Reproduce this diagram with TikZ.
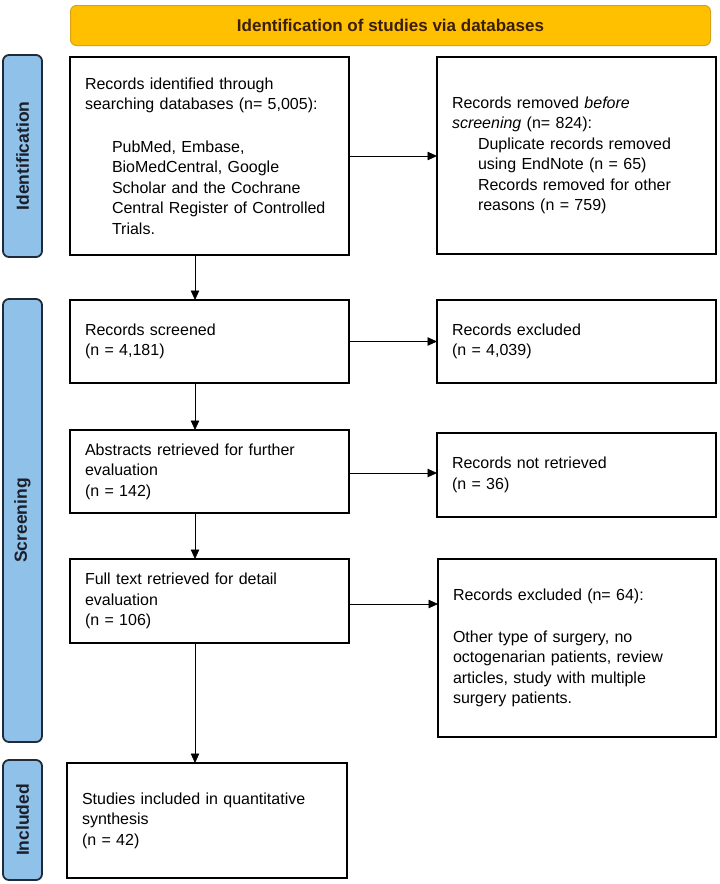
\documentclass[tikz,border=0pt]{standalone}
\usepackage{fontspec}
\setmainfont{Liberation Sans}
\usetikzlibrary{arrows.meta,calc}
\definecolor{bannerfill}{HTML}{FFC000}
\definecolor{bannerdraw}{HTML}{D9A21B}
\definecolor{bannertext}{HTML}{3A1E0A}
\definecolor{phasefill}{HTML}{8FC1E9}
\definecolor{phasedraw}{HTML}{1F2B38}
\definecolor{phasetext}{HTML}{1A1F2A}
\tikzset{
  flowbox/.style={draw=black, line width=1.3pt, rectangle, anchor=north west,
    inner xsep=15pt, inner ysep=0pt, outer sep=0pt, align=left,
    font=\fontsize{16}{20.5}\selectfont},
  phase/.style={draw=phasedraw, fill=phasefill, line width=1.8pt, rounded corners=6pt,
    anchor=north west, minimum width=39pt, inner sep=0pt, outer sep=0pt},
  phaselabel/.style={rotate=90, font=\bfseries\fontsize{17.5}{20}\selectfont, text=phasetext},
  arr/.style={-{Triangle[length=9.5pt,width=8.5pt]}, line width=0.8pt, black}
}
\begin{document}
\begin{tikzpicture}[x=1pt,y=-1pt]
\useasboundingbox (0,0) rectangle (720,884);
% banner
\node[draw=bannerdraw, fill=bannerfill, line width=1pt, rounded corners=6pt, anchor=north west,
  minimum width=640pt, minimum height=40pt, inner sep=0pt,
  font=\bfseries\fontsize{17}{20}\selectfont, text=bannertext] (banner) at (70,5)
  {Identification of studies via databases};
% phase labels
\node[phase, minimum height=202pt] (pid) at (3,55) {};
\node[phaselabel] (tid) at (pid.center) {Identification};
\node[phase, minimum height=443pt] (psc) at (3,299) {};
\node[phaselabel] (tsc) at (psc.center) {Screening};
\node[phase, minimum height=120pt] (pin) at (3,760) {};
\node[phaselabel] (tin) at (pin.center) {Included};
% left column
\node[flowbox, text width=249pt, minimum height=198pt] (b1) at (70,57)
  {Records identified through\\
   \mbox{searching databases (n= 5,005):}\\[22pt]
   \hspace*{27pt}PubMed, Embase,\\
   \hspace*{27pt}BioMedCentral, Google\\
   \hspace*{27pt}Scholar and the Cochrane\\
   \hspace*{27pt}\mbox{Central Register of Controlled}\\
   \hspace*{27pt}Trials.};
\node[flowbox, text width=249pt, minimum height=83pt] (b3) at (70,300)
  {Records screened\\(n = 4,181)};
\node[flowbox, text width=249pt, minimum height=83pt] (b5) at (70,430)
  {\mbox{Abstracts retrieved for further}\\evaluation\\(n = 142)};
\node[flowbox, text width=249pt, minimum height=84pt] (b7) at (70,559)
  {Full text retrieved for detail\\evaluation\\(n = 106)};
\node[flowbox, text width=250pt, minimum height=115pt] (b9) at (67,763)
  {\mbox{Studies included in quantitative}\\synthesis\\(n = 42)};
% right column
\node[flowbox, text width=249pt, minimum height=197pt] (b2) at (437,57)
  {Records removed \textit{before}\\
   \textit{screening} (n= 824):\\
   \hspace*{26pt}Duplicate records removed\\
   \hspace*{26pt}using EndNote (n = 65)\\
   \hspace*{26pt}\mbox{Records removed for other}\\
   \hspace*{26pt}reasons (n = 759)};
\node[flowbox, text width=249pt, minimum height=83pt] (b4) at (437,300)
  {Records excluded\\(n = 4,039)};
\node[flowbox, text width=249pt, minimum height=84pt] (b6) at (437,433)
  {Records not retrieved\\(n = 36)};
\node[flowbox, text width=248pt, minimum height=178pt] (b8) at (438,559)
  {Records excluded (n= 64):\\[21pt]
   Other type of surgery, no\\
   \mbox{octogenarian patients, review}\\
   articles, study with multiple\\
   surgery patients.};
% connectors
\coordinate (ax) at (195,0);
\draw[arr] (b1.east) -- (b1.east -| b2.west);
\draw[arr] (b1.south -| ax) -- (b3.north -| ax);
\draw[arr] (b3.east) -- (b3.east -| b4.west);
\draw[arr] (b3.south -| ax) -- (b5.north -| ax);
\draw[arr] ([yshift=-1.5pt]b5.east) -- ([yshift=-1.5pt]b5.east -| b6.west);
\draw[arr] (b5.south -| ax) -- (b7.north -| ax);
\draw[arr] ([yshift=-3pt]b7.east) -- ([yshift=-3pt]b7.east -| b8.west);
\draw[arr] (b7.south -| ax) -- (b9.north -| ax);
\end{tikzpicture}
\end{document}
